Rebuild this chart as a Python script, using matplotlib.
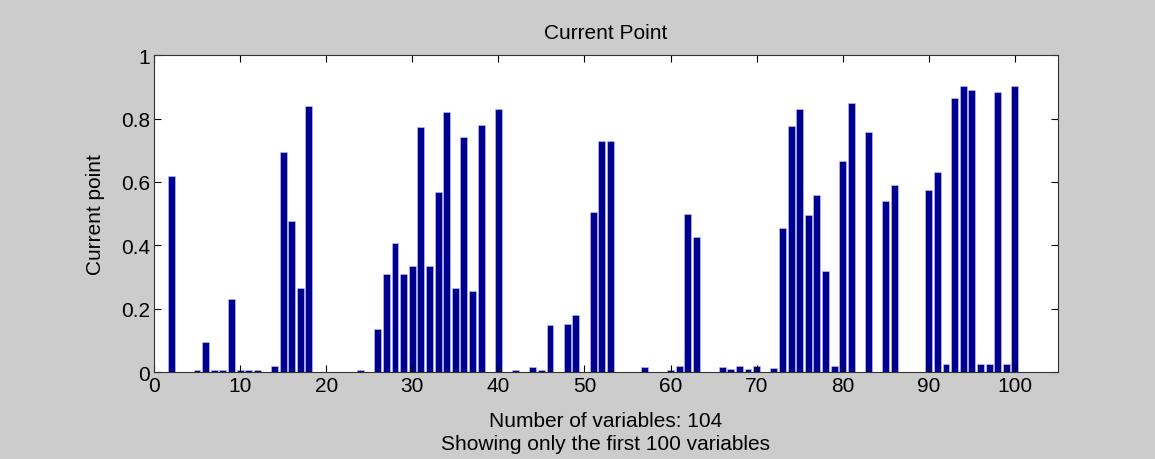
import numpy as np
import matplotlib.pyplot as plt

plt.rcParams['font.family'] = ['Liberation Sans', 'DejaVu Sans']

# variable index and current point value (first 100 variables)
variables = list(range(1, 101))
values = [
    0.0, 0.619, 0.0, 0.0, 0.005, 0.095, 0.005, 0.005, 0.23, 0.005,
    0.005, 0.005, 0.0, 0.018, 0.695, 0.477, 0.264, 0.838, 0.0, 0.0,
    0.0, 0.0, 0.0, 0.005, 0.0, 0.135, 0.308, 0.407, 0.308, 0.335,
    0.772, 0.335, 0.567, 0.821, 0.264, 0.741, 0.255, 0.781, 0.0, 0.830,
    0.0, 0.005, 0.0, 0.015, 0.005, 0.148, 0.0, 0.153, 0.179, 0.0,
    0.505, 0.728, 0.728, 0.0, 0.0, 0.0, 0.015, 0.0, 0.0, 0.005,
    0.019, 0.500, 0.425, 0.0, 0.0, 0.015, 0.009, 0.018, 0.010, 0.018,
    0.0, 0.014, 0.456, 0.777, 0.831, 0.496, 0.558, 0.318, 0.018, 0.665,
    0.849, 0.0, 0.758, 0.0, 0.540, 0.590, 0.0, 0.0, 0.0, 0.576,
    0.630, 0.024, 0.866, 0.901, 0.889, 0.024, 0.024, 0.884, 0.024, 0.901,
]
n_total = 104

fig = plt.figure(figsize=(11.55, 4.6), dpi=100, facecolor='#cccccc')
ax = fig.add_axes([0.1333, 0.189, 0.7827, 0.689])

ax.bar(variables, values, width=0.8, color='#00008f', edgecolor='#c8c8ff', linewidth=0.4)

ax.set_xlim(0, 105)
ax.set_ylim(0, 1)
ax.set_xticks(np.arange(0, 101, 10))
ax.set_yticks([0, 0.2, 0.4, 0.6, 0.8, 1])
ax.set_yticklabels(['0', '0.2', '0.4', '0.6', '0.8', '1'])
ax.tick_params(direction='in', top=True, right=True, labelsize=15, length=5, pad=3)
for s in ax.spines.values():
    s.set_color('#333333')

ax.set_title('Current Point', fontsize=15, pad=12)
ax.set_ylabel('Current point', fontsize=15, labelpad=11)
ax.set_xlabel('Number of variables: %d\nShowing only the first 100 variables' % n_total,
              fontsize=15, labelpad=11, linespacing=1.3)

plt.savefig('out.png', dpi=100, facecolor=fig.get_facecolor())
